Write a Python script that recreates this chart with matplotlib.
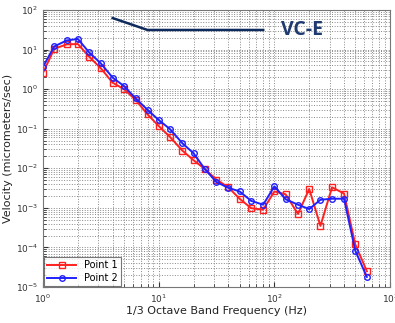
import matplotlib
matplotlib.use("Agg")
import matplotlib.pyplot as plt
from matplotlib.ticker import LogLocator, NullFormatter

# 1/3 octave band centre frequencies (Hz)
freqs = [1, 1.25, 1.6, 2, 2.5, 3.15, 4, 5, 6.3, 8, 10, 12.5, 16, 20, 25,
         31.5, 40, 50, 63, 80, 100, 125, 160, 200, 250, 315, 400, 500, 630]

# velocity, micrometers/sec
point1 = [2.6, 10.5, 13.5, 13.8, 6.6, 3.4, 1.45, 1.0, 0.54, 0.23, 0.117,
          0.062, 0.028, 0.016, 0.0096, 0.0052, 0.0033, 0.0017, 0.00098,
          0.0009, 0.0026, 0.0022, 0.0007, 0.0030, 0.00035, 0.0033, 0.0023,
          1.2e-4, 2.5e-5]
point2 = [3.7, 12.0, 17.0, 18.5, 8.5, 4.5, 1.95, 1.2, 0.59, 0.30, 0.166,
          0.098, 0.043, 0.024, 0.0096, 0.0045, 0.0032, 0.0026, 0.0015,
          0.0012, 0.0035, 0.00165, 0.0012, 0.00093, 0.0016, 0.0017, 0.0017,
          8.3e-5, 1.8e-5]

# VC-E criterion line
vc_freqs = [4, 8, 80]
vc_vals = [62.5, 31.25, 31.25]

fig = plt.figure(figsize=(3.95, 3.23), dpi=100)
ax = fig.add_axes([0.109, 0.1115, 0.8785, 0.8576])
ax.set_xscale("log")
ax.set_yscale("log")
ax.set_xlim(1, 1000)
ax.set_ylim(1e-5, 1e2)

ax.plot(freqs, point1, color="#ff2020", marker="s", markersize=4,
        markerfacecolor="none", markeredgewidth=1, linewidth=1.4, label="Point 1")
ax.plot(freqs, point2, color="#2020ff", marker="o", markersize=4,
        markerfacecolor="none", markeredgewidth=1, linewidth=1.4, label="Point 2")
ax.plot(vc_freqs, vc_vals, color="#0f2a5c", linewidth=1.8)
ax.text(113, 31.25, "VC-E", color="#1f3a6e", fontsize=14, fontweight="bold",
        family="Open Sans", va="center", ha="left")

ax.xaxis.set_major_locator(LogLocator(base=10, numticks=10))
ax.yaxis.set_major_locator(LogLocator(base=10, numticks=10))
ax.xaxis.set_minor_locator(LogLocator(base=10, subs=range(2, 10), numticks=20))
ax.yaxis.set_minor_locator(LogLocator(base=10, subs=range(2, 10), numticks=20))
ax.xaxis.set_minor_formatter(NullFormatter())
ax.yaxis.set_minor_formatter(NullFormatter())

ax.grid(True, which="both", linestyle=":", color="#888888", linewidth=0.7)
ax.tick_params(which="both", direction="in", labelsize=6.5, colors="#333333")
ax.tick_params(axis="x", pad=4)
for s in ax.spines.values():
    s.set_color("#777777")

ax.set_xlabel("1/3 Octave Band Frequency (Hz)", fontsize=8, color="#222222", labelpad=1)
ax.set_ylabel("Velocity (micrometers/sec)", fontsize=8, color="#222222", labelpad=2)

leg = ax.legend(loc="lower left", fontsize=7, borderaxespad=0.1,
                fancybox=False, edgecolor="#555555", handlelength=3,
                borderpad=0.3, labelspacing=0.3)
leg.get_frame().set_linewidth(0.8)

fig.savefig("out.png", dpi=100)
